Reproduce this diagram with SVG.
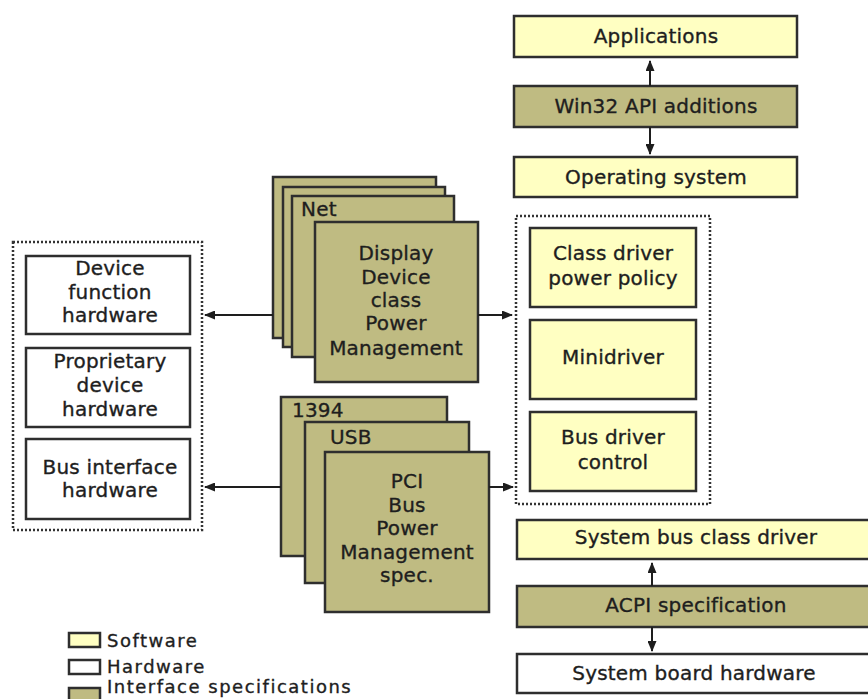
<svg xmlns="http://www.w3.org/2000/svg" width="868" height="699" viewBox="0 0 868 699">
<style>
.sw{fill:#FFFFC2;stroke:#2e2e2e;stroke-width:2.5}
.hw{fill:#FFFFFF;stroke:#2e2e2e;stroke-width:2.5}
.is{fill:#BFBB82;stroke:#2e2e2e;stroke-width:2.5}
.grp{fill:none;stroke:#333;stroke-width:2.5;stroke-dasharray:2 2}
text{font-family:"DejaVu Sans",Verdana,sans-serif;font-size:20px;fill:#1e1e1e;stroke:#1e1e1e;stroke-width:0.35px;letter-spacing:0.2px}
.c{text-anchor:middle}
.lg{font-size:18px;letter-spacing:1.5px}
.ln{stroke:#1e1e1e;stroke-width:2;fill:none}
</style>
<defs>
<marker id="ah" markerUnits="userSpaceOnUse" markerWidth="11" markerHeight="9" refX="10" refY="4.5" orient="auto">
<path d="M0,0 L11,4.5 L0,9 z" fill="#1e1e1e"/>
</marker>
</defs>

<g id="applications"><rect class="sw" x="514" y="16" width="283" height="41"/><text class="c" x="656" y="43">Applications</text></g>
<g id="win32"><rect class="is" x="514" y="86" width="283" height="41"/><text class="c" x="656" y="113">Win32 API additions</text></g>
<g id="os"><rect class="sw" x="514" y="157" width="283" height="40"/><text class="c" x="656" y="184">Operating system</text></g>

<g id="driver-group">
<rect class="grp" x="516" y="216" width="194" height="288"/>
<g id="class-driver"><rect class="sw" x="530" y="228" width="166" height="79"/><text class="c" x="613" y="260">Class driver</text><text class="c" x="613" y="285">power policy</text></g>
<g id="minidriver"><rect class="sw" x="530" y="320" width="166" height="79"/><text class="c" x="613" y="364">Minidriver</text></g>
<g id="bus-driver"><rect class="sw" x="530" y="412" width="166" height="79"/><text class="c" x="613" y="444">Bus driver</text><text class="c" x="613" y="469">control</text></g>
</g>

<g id="hardware-group">
<rect class="grp" x="13" y="242" width="189" height="288"/>
<g id="device-function"><rect class="hw" x="26" y="256" width="164" height="78"/><text class="c" x="110" y="275">Device</text><text class="c" x="110" y="299">function</text><text class="c" x="110" y="322">hardware</text></g>
<g id="proprietary"><rect class="hw" x="26" y="348" width="164" height="79"/><text class="c" x="110" y="368">Proprietary</text><text class="c" x="110" y="392">device</text><text class="c" x="110" y="416">hardware</text></g>
<g id="bus-interface"><rect class="hw" x="26" y="439" width="164" height="80"/><text class="c" x="110" y="474">Bus interface</text><text class="c" x="110" y="497">hardware</text></g>
</g>

<g id="device-class-stack">
<rect class="is" x="273" y="177" width="163" height="161"/>
<rect class="is" x="283" y="187" width="162" height="160"/>
<rect class="is" x="292" y="196" width="162" height="161"/>
<text x="301" y="216">Net</text>
<rect class="is" x="315" y="222" width="163" height="160"/>
<text class="c" x="396" y="260">Display</text>
<text class="c" x="396" y="284">Device</text>
<text class="c" x="396" y="307">class</text>
<text class="c" x="396" y="330">Power</text>
<text class="c" x="396" y="355">Management</text>
</g>

<g id="bus-stack">
<rect class="is" x="281" y="397" width="166" height="159"/>
<text x="292" y="417">1394</text>
<rect class="is" x="305" y="422" width="164" height="161"/>
<text x="330" y="444">USB</text>
<rect class="is" x="325" y="452" width="164" height="160"/>
<text class="c" x="407" y="488">PCI</text>
<text class="c" x="407" y="512">Bus</text>
<text class="c" x="407" y="535">Power</text>
<text class="c" x="407" y="559">Management</text>
<text class="c" x="407" y="582">spec.</text>
</g>

<g id="system-bus"><rect class="sw" x="517" y="520" width="362" height="39"/><text class="c" x="696" y="544">System bus class driver</text></g>
<g id="acpi"><rect class="is" x="517" y="586" width="362" height="41"/><text class="c" x="696" y="612">ACPI specification</text></g>
<g id="system-board"><rect class="hw" x="517" y="654" width="362" height="39"/><text class="c" x="694" y="680">System board hardware</text></g>

<g id="connectors">
<line class="ln" x1="650" y1="86" x2="650" y2="61" marker-end="url(#ah)"/>
<line class="ln" x1="650" y1="127" x2="650" y2="154" marker-end="url(#ah)"/>
<line class="ln" x1="273" y1="315" x2="205" y2="315" marker-end="url(#ah)"/>
<line class="ln" x1="478" y1="315" x2="512" y2="315" marker-end="url(#ah)"/>
<line class="ln" x1="281" y1="487" x2="205" y2="487" marker-end="url(#ah)"/>
<line class="ln" x1="489" y1="487" x2="513" y2="487" marker-end="url(#ah)"/>
<line class="ln" x1="652" y1="586" x2="652" y2="563" marker-end="url(#ah)"/>
<line class="ln" x1="652" y1="627" x2="652" y2="651" marker-end="url(#ah)"/>
</g>

<g id="legend">
<rect class="sw" x="69" y="633" width="31" height="14"/><text class="lg" x="107" y="647">Software</text>
<rect class="hw" x="69" y="660" width="31" height="14"/><text class="lg" x="107" y="673">Hardware</text>
<rect class="is" x="69" y="688" width="31" height="14"/><text class="lg" x="107" y="693">Interface specifications</text>
</g>
</svg>
